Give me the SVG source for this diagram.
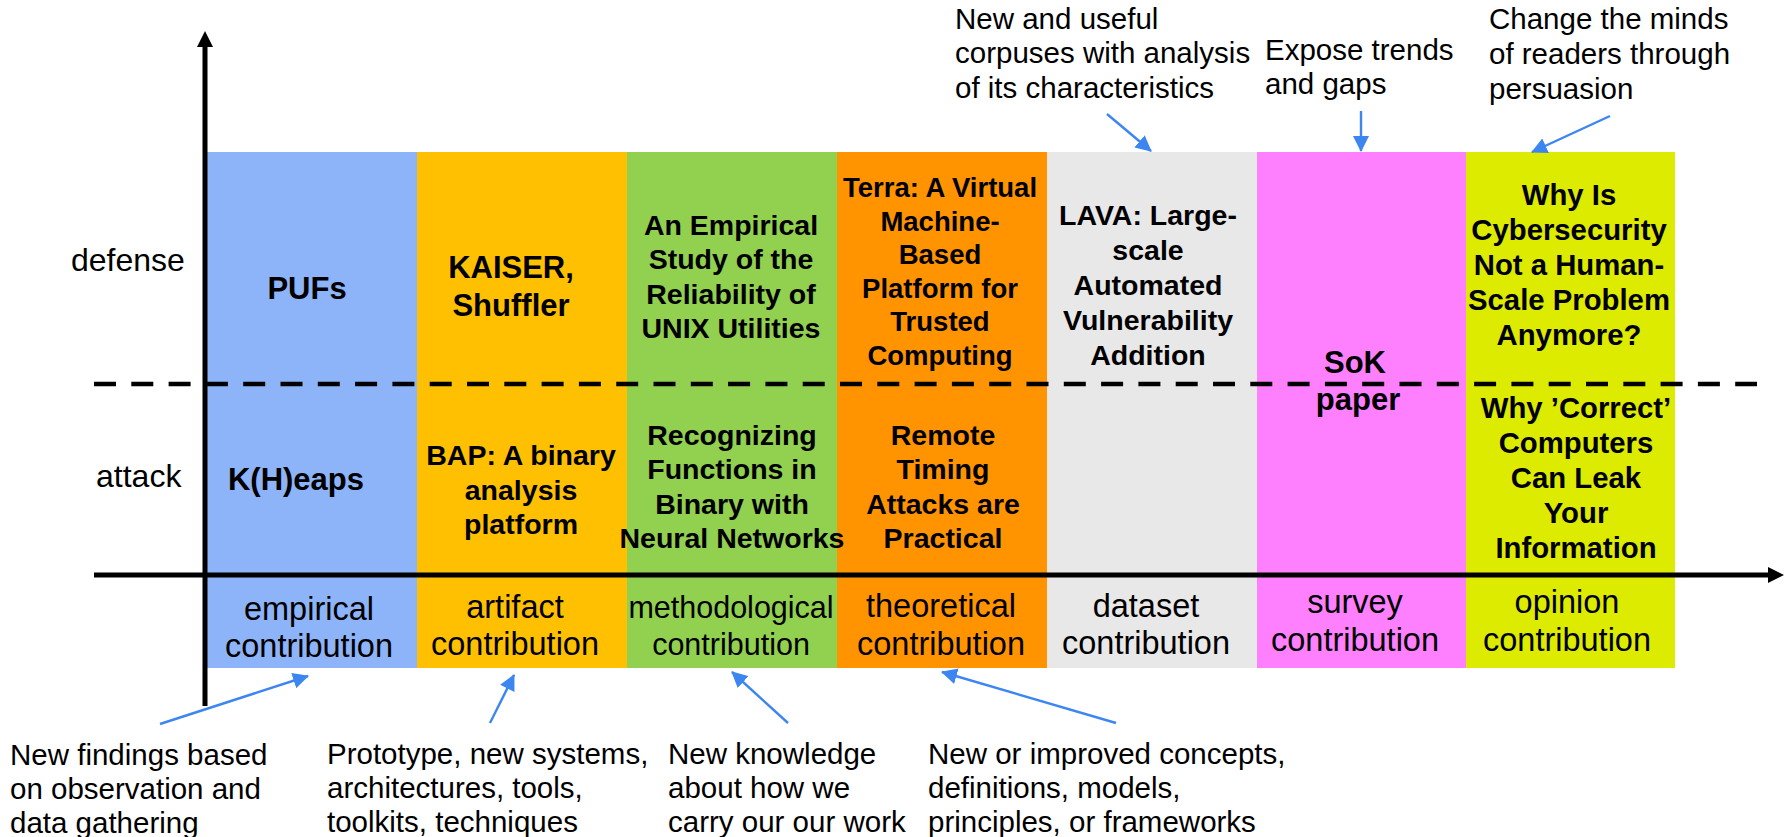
<svg xmlns="http://www.w3.org/2000/svg" width="1787" height="837" viewBox="0 0 1787 837">
<style>
.t{font-family:"Liberation Sans",Arial,Helvetica,sans-serif;fill:#000}
.b{font-weight:bold;font-size:28.5px;text-anchor:middle}
.big{font-size:31px}
.lab{font-size:32.5px;text-anchor:middle}
.ann{font-size:29.5px}
.ax{stroke:#000;stroke-width:5;fill:none}
.dash{stroke:#000;stroke-width:4.5;stroke-dasharray:22 15.3;fill:none}
.bl{stroke:#3D86F2;stroke-width:2.4;fill:none;marker-end:url(#ba)}
</style>
<defs>
<marker id="ba" viewBox="0 0 16 16" refX="15" refY="8" markerWidth="16" markerHeight="16" markerUnits="userSpaceOnUse" orient="auto">
<path d="M0,0 L16,8 L0,16 Z" fill="#3D86F2"/>
</marker>
</defs>
<rect width="1787" height="837" fill="#fff"/>
<g id="col-empirical">
<rect x="207" y="152" width="210" height="516" fill="#8DB4F8"/>
<text class="t b big" x="307" y="299">PUFs</text>
<text class="t b big" x="296" y="490">K(H)eaps</text>
<text class="t lab" x="309" y="620">empirical</text>
<text class="t lab" x="309" y="657">contribution</text>
</g>
<g id="col-artifact">
<rect x="417" y="152" width="210" height="516" fill="#FEC000"/>
<text class="t b big" x="511" y="278">KAISER,</text>
<text class="t b big" x="511" y="316">Shuffler</text>
<text class="t b" x="521" y="465">BAP: A binary</text>
<text class="t b" x="521" y="500">analysis</text>
<text class="t b" x="521" y="534">platform</text>
<text class="t lab" x="515" y="618">artifact</text>
<text class="t lab" x="515" y="655">contribution</text>
</g>
<g id="col-theoretical">
<rect x="837" y="152" width="210" height="516" fill="#FF9300"/>
<text class="t b" x="940" y="197" style="font-size:27.5px">Terra: A Virtual</text>
<text class="t b" x="940" y="230.5" style="font-size:27.5px">Machine-</text>
<text class="t b" x="940" y="264" style="font-size:27.5px">Based</text>
<text class="t b" x="940" y="297.5" style="font-size:27.5px">Platform for</text>
<text class="t b" x="940" y="331" style="font-size:27.5px">Trusted</text>
<text class="t b" x="940" y="364.5" style="font-size:27.5px">Computing</text>
<text class="t b" x="943" y="445">Remote</text>
<text class="t b" x="943" y="479">Timing</text>
<text class="t b" x="943" y="514">Attacks are</text>
<text class="t b" x="943" y="548">Practical</text>
<text class="t lab" x="941" y="617">theoretical</text>
<text class="t lab" x="941" y="655">contribution</text>
</g>
<g id="col-methodological">
<rect x="627" y="152" width="210" height="516" fill="#92D050"/>
<text class="t b" x="731" y="235">An Empirical</text>
<text class="t b" x="731" y="269">Study of the</text>
<text class="t b" x="731" y="304">Reliability of</text>
<text class="t b" x="731" y="338">UNIX Utilities</text>
<text class="t b" x="732" y="445">Recognizing</text>
<text class="t b" x="732" y="479">Functions in</text>
<text class="t b" x="732" y="514">Binary with</text>
<text class="t b" x="732" y="548">Neural Networks</text>
<text class="t lab" x="731" y="618" style="font-size:30.5px">methodological</text>
<text class="t lab" x="731" y="655" style="font-size:30.5px">contribution</text>
</g>
<g id="col-dataset">
<rect x="1047" y="152" width="210" height="516" fill="#E8E8E8"/>
<text class="t b" x="1148" y="225">LAVA: Large-</text>
<text class="t b" x="1148" y="260">scale</text>
<text class="t b" x="1148" y="295">Automated</text>
<text class="t b" x="1148" y="330">Vulnerability</text>
<text class="t b" x="1148" y="365">Addition</text>
<text class="t lab" x="1146" y="617">dataset</text>
<text class="t lab" x="1146" y="654">contribution</text>
</g>
<g id="col-survey">
<rect x="1257" y="152" width="209" height="516" fill="#FF80FF"/>
<text class="t b big" x="1355" y="373">SoK</text>
<text class="t b big" x="1358" y="410">paper</text>
<text class="t lab" x="1355" y="613">survey</text>
<text class="t lab" x="1355" y="651">contribution</text>
</g>
<g id="col-opinion">
<rect x="1466" y="152" width="209" height="516" fill="#DDEB00"/>
<text class="t b" x="1569" y="205" style="font-size:29.3px">Why Is</text>
<text class="t b" x="1569" y="240" style="font-size:29.3px">Cybersecurity</text>
<text class="t b" x="1569" y="275" style="font-size:29.3px">Not a Human-</text>
<text class="t b" x="1569" y="310" style="font-size:29.3px">Scale Problem</text>
<text class="t b" x="1569" y="345" style="font-size:29.3px">Anymore?</text>
<text class="t b" x="1576" y="418" style="font-size:29.3px">Why ’Correct’</text>
<text class="t b" x="1576" y="453" style="font-size:29.3px">Computers</text>
<text class="t b" x="1576" y="488" style="font-size:29.3px">Can Leak</text>
<text class="t b" x="1576" y="523" style="font-size:29.3px">Your</text>
<text class="t b" x="1576" y="558" style="font-size:29.3px">Information</text>
<text class="t lab" x="1567" y="613">opinion</text>
<text class="t lab" x="1567" y="651">contribution</text>
</g>
<g id="axis-labels">
<text class="t" x="71" y="271" style="font-size:32px">defense</text>
<text class="t" x="96" y="487" style="font-size:32px">attack</text>
</g>
<g id="annotations">
<text class="t ann" x="955" y="29">New and useful</text>
<text class="t ann" x="955" y="63">corpuses with analysis</text>
<text class="t ann" x="955" y="98">of its characteristics</text>
<text class="t ann" x="1265" y="60">Expose trends</text>
<text class="t ann" x="1265" y="94">and gaps</text>
<text class="t ann" x="1489" y="29">Change the minds</text>
<text class="t ann" x="1489" y="64">of readers through</text>
<text class="t ann" x="1489" y="99">persuasion</text>
<text class="t ann" x="10" y="765">New findings based</text>
<text class="t ann" x="10" y="799">on observation and</text>
<text class="t ann" x="10" y="833">data gathering</text>
<text class="t ann" x="327" y="764">Prototype, new systems,</text>
<text class="t ann" x="327" y="798">architectures, tools,</text>
<text class="t ann" x="327" y="832">toolkits, techniques</text>
<text class="t ann" x="668" y="764">New knowledge</text>
<text class="t ann" x="668" y="798">about how we</text>
<text class="t ann" x="668" y="832">carry our our work</text>
<text class="t ann" x="928" y="764">New or improved concepts,</text>
<text class="t ann" x="928" y="798">definitions, models,</text>
<text class="t ann" x="928" y="832">principles, or frameworks</text>
</g>
<g id="connectors">
<line class="dash" x1="94" y1="384" x2="1757" y2="384"/>
<line class="ax" x1="205" y1="706" x2="205" y2="44"/>
<path d="M205,31 L213,47 L197,47 Z" fill="#000"/>
<line class="ax" x1="94" y1="575" x2="1770" y2="575"/>
<path d="M1784,575 L1768,583 L1768,567 Z" fill="#000"/>
<line class="bl" x1="160" y1="724" x2="308" y2="676"/>
<line class="bl" x1="490" y1="723" x2="514" y2="675"/>
<line class="bl" x1="788" y1="723" x2="732" y2="672"/>
<line class="bl" x1="1116" y1="723" x2="942" y2="672"/>
<line class="bl" x1="1107" y1="114" x2="1151" y2="151"/>
<line class="bl" x1="1361" y1="111" x2="1361" y2="151"/>
<line class="bl" x1="1610" y1="116" x2="1532" y2="152"/>
</g>
</svg>
